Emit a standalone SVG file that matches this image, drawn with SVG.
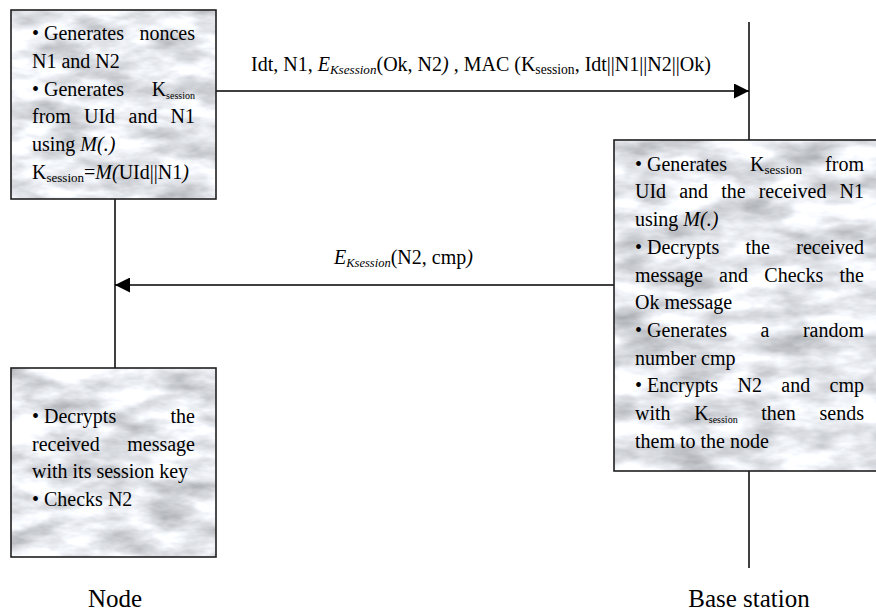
<svg xmlns="http://www.w3.org/2000/svg" width="876" height="612" viewBox="0 0 876 612">
<style>
text{font-family:"Liberation Serif","Times New Roman",serif;font-size:20px;fill:#000}
.it{font-style:italic}
.lbl{font-size:25px}
.box{fill:none;stroke:#1e1e1e;stroke-width:1.6}
.ln{stroke:#000;stroke-width:1.5;fill:none}
</style>
<defs>
<filter id="marbleA" x="0" y="0" width="1" height="1" color-interpolation-filters="sRGB">
<feTurbulence type="fractalNoise" baseFrequency="0.02 0.05" numOctaves="4" seed="7"/>
<feColorMatrix type="matrix" values="0.58 0 0 0 0.61  0.58 0 0 0 0.62  0.58 0 0 0 0.64  0 0 0 0 1"/>
</filter>
<filter id="marbleB" x="0" y="0" width="1" height="1" color-interpolation-filters="sRGB">
<feTurbulence type="fractalNoise" baseFrequency="0.02 0.05" numOctaves="4" seed="21"/>
<feColorMatrix type="matrix" values="0.58 0 0 0 0.61  0.58 0 0 0 0.62  0.58 0 0 0 0.64  0 0 0 0 1"/>
</filter>
<filter id="marbleC" x="0" y="0" width="1" height="1" color-interpolation-filters="sRGB">
<feTurbulence type="fractalNoise" baseFrequency="0.018 0.045" numOctaves="4" seed="42"/>
<feColorMatrix type="matrix" values="0.58 0 0 0 0.61  0.58 0 0 0 0.62  0.58 0 0 0 0.64  0 0 0 0 1"/>
</filter>
<marker id="arrow" markerUnits="userSpaceOnUse" markerWidth="15" markerHeight="15" refX="15" refY="7.5" orient="auto">
<path d="M0,0 L15,7.5 L0,15 z" fill="#000"/>
</marker>
</defs>
<rect width="876" height="612" fill="#fff"/>

<g id="connectors">
<line class="ln" x1="115" y1="199" x2="115" y2="368"/>
<line class="ln" x1="749" y1="22" x2="749" y2="140"/>
<line class="ln" x1="749" y1="471" x2="749" y2="568"/>
<line class="ln" x1="216" y1="91" x2="749" y2="91" marker-end="url(#arrow)"/>
<line class="ln" x1="614" y1="285" x2="115" y2="285" marker-end="url(#arrow)"/>
<text x="251" y="71" font-size="21.1">Idt, N1, <tspan class="it">E</tspan><tspan class="it" font-size="13.1" dy="3">Ksession</tspan><tspan dy="-3">(Ok, N2</tspan><tspan class="it">)</tspan> , MAC (K<tspan font-size="13.6" dy="3">session</tspan><tspan dy="-3">, Idt||N1||N2||Ok)</tspan></text>
<text x="334" y="264"><tspan class="it">E</tspan><tspan class="it" font-size="12.5" dy="3">Ksession</tspan><tspan dy="-3">(N2, cmp</tspan><tspan class="it">)</tspan></text>
</g>

<g id="node-box-1">
<rect x="11" y="10" width="205" height="189" filter="url(#marbleA)"/>
<rect class="box" x="11" y="10" width="205" height="189"/>
<text x="32" y="40">• Generates</text>
<text x="195" y="40" text-anchor="end">nonces</text>
<text x="32" y="67.8">N1 and N2</text>
<text x="32" y="95.6">• Generates</text>
<text x="195" y="95.6" text-anchor="end">K<tspan font-size="10" dy="3">session</tspan></text>
<text x="32" y="123.4">from</text>
<text x="84" y="123.4">UId</text>
<text x="128.5" y="123.4">and</text>
<text x="195" y="123.4" text-anchor="end">N1</text>
<text x="32" y="151.2">using <tspan class="it">M(.)</tspan></text>
<text x="32" y="179">K<tspan font-size="13" dy="3">session</tspan><tspan dy="-3">=</tspan><tspan class="it">M(</tspan>UId||N1<tspan class="it">)</tspan></text>
</g>

<g id="node-box-2">
<rect x="11" y="368" width="205" height="189" filter="url(#marbleB)"/>
<rect class="box" x="11" y="368" width="205" height="189"/>
<text x="32" y="422.7">• Decrypts</text>
<text x="195" y="422.7" text-anchor="end">the</text>
<text x="32" y="450.5">received</text>
<text x="195" y="450.5" text-anchor="end">message</text>
<text x="32" y="478.3">with its session key</text>
<text x="32" y="506">• Checks N2</text>
</g>

<g id="base-box">
<rect x="614" y="140" width="266" height="331" filter="url(#marbleC)"/>
<rect class="box" x="614" y="140" width="266" height="331"/>
<text x="635" y="170.7">• Generates</text>
<text x="750" y="170.7">K<tspan font-size="13" dy="3">session</tspan></text>
<text x="864" y="170.7" text-anchor="end">from</text>
<text x="635" y="198.4">UId</text>
<text x="679.2" y="198.4">and</text>
<text x="721.2" y="198.4">the</text>
<text x="758.7" y="198.4">received</text>
<text x="864" y="198.4" text-anchor="end">N1</text>
<text x="635" y="226.1">using <tspan class="it">M(.)</tspan></text>
<text x="635" y="253.8">• Decrypts</text>
<text x="745.5" y="253.8">the</text>
<text x="864" y="253.8" text-anchor="end">received</text>
<text x="635" y="281.5">message</text>
<text x="719.1" y="281.5">and</text>
<text x="764.3" y="281.5">Checks</text>
<text x="864" y="281.5" text-anchor="end">the</text>
<text x="635" y="309.2">Ok message</text>
<text x="635" y="336.9">• Generates</text>
<text x="760.5" y="336.9">a</text>
<text x="864" y="336.9" text-anchor="end">random</text>
<text x="635" y="364.6">number cmp</text>
<text x="635" y="392.3">• Encrypts</text>
<text x="737.5" y="392.3">N2</text>
<text x="781.3" y="392.3">and</text>
<text x="864" y="392.3" text-anchor="end">cmp</text>
<text x="635" y="420">with</text>
<text x="694.3" y="420">K<tspan font-size="10" dy="3">session</tspan></text>
<text x="761.3" y="420">then</text>
<text x="864" y="420" text-anchor="end">sends</text>
<text x="635" y="447.7">them to the node</text>
</g>

<g id="label-node"><text class="lbl" x="115" y="607" text-anchor="middle">Node</text></g>
<g id="label-base-station"><text class="lbl" x="749" y="607" text-anchor="middle">Base station</text></g>
</svg>
